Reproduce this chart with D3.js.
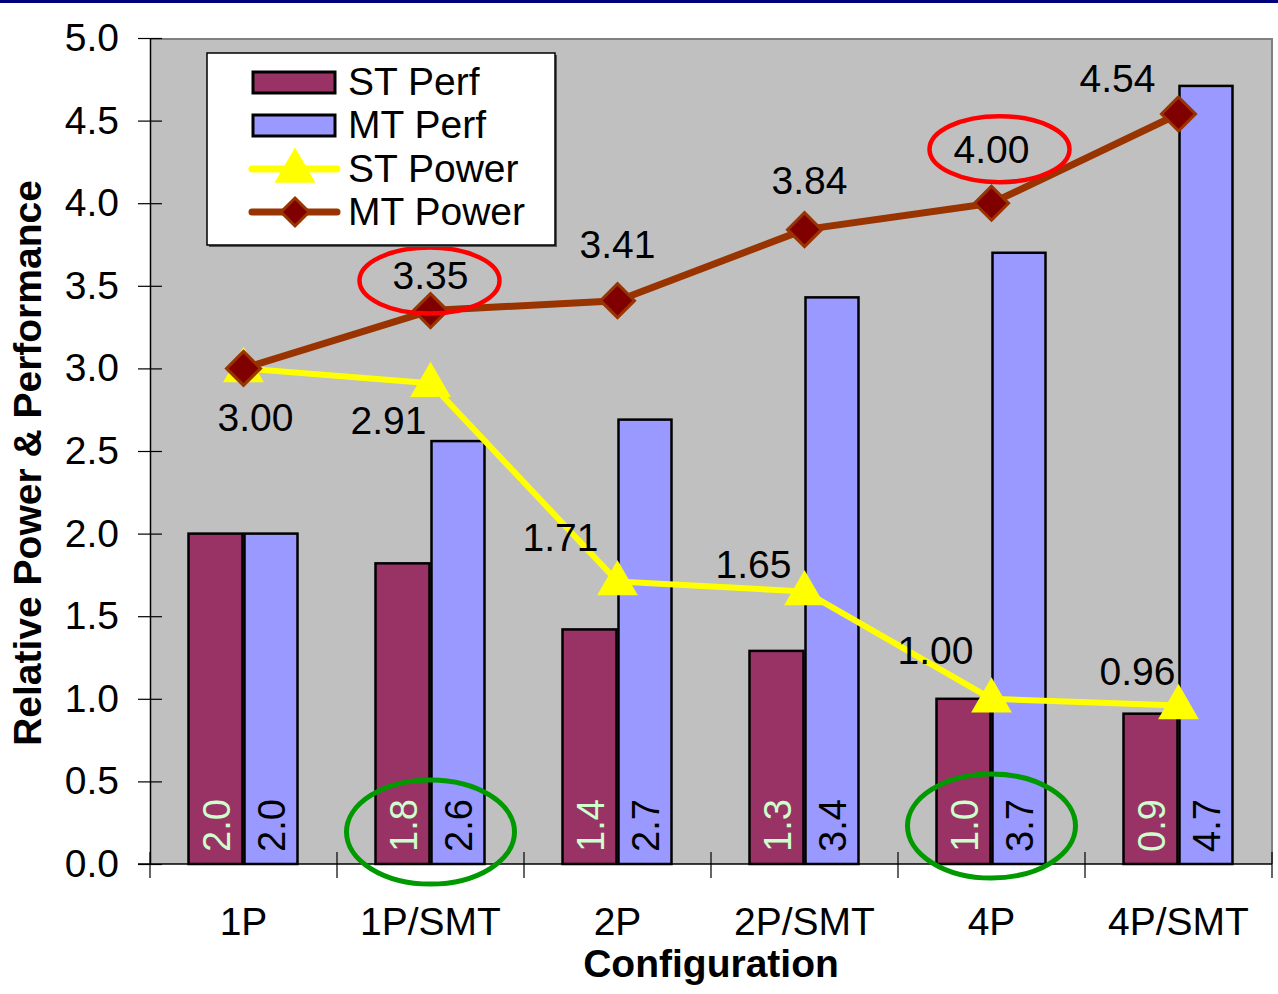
<!DOCTYPE html>
<html><head><meta charset="utf-8">
<script src="https://cdn.jsdelivr.net/npm/d3@7"></script>
<style>body{margin:0;background:#fff;}svg{display:block;font-family:"Liberation Sans",Arial,sans-serif;}</style>
</head><body>
<svg id="c" width="1278" height="994"></svg>
<script>
const categories = ["1P","1P/SMT","2P","2P/SMT","4P","4P/SMT"];
const stPerf = [2.00, 1.82, 1.42, 1.29, 1.00, 0.91];
const mtPerf = [2.00, 2.56, 2.69, 3.43, 3.70, 4.71];
const stPerfLabels = ["2.0","1.8","1.4","1.3","1.0","0.9"];
const mtPerfLabels = ["2.0","2.6","2.7","3.4","3.7","4.7"];
const stPower = [3.00, 2.91, 1.71, 1.65, 1.00, 0.96];
const mtPower = [3.00, 3.35, 3.41, 3.84, 4.00, 4.54];
const yTicks = [0,0.5,1,1.5,2,2.5,3,3.5,4,4.5,5];
const seriesNames = ["ST Perf","MT Perf","ST Power","MT Power"];

const svg = d3.select("#c");
const L=150, R=1272, T=38, B=864;
const FS = 39;
const x = d3.scaleBand().domain(categories).range([L,R]).paddingInner(0).paddingOuter(0);
const y = d3.scaleLinear().domain([0,5]).range([B,T]);
const barW = 54;

// top blue rule
svg.append("rect").attr("x",0).attr("y",0).attr("width",1278).attr("height",3).attr("fill","#00007a");

// plot area
svg.append("rect").attr("x",L).attr("y",T).attr("width",R-L).attr("height",B-T).attr("fill","#c0c0c0");
svg.append("line").attr("x1",L).attr("x2",R).attr("y1",T+1).attr("y2",T+1).attr("stroke","#808080").attr("stroke-width",2);
svg.append("line").attr("x1",R).attr("x2",R).attr("y1",T).attr("y2",B).attr("stroke","#808080").attr("stroke-width",2);

// y axis
const yAxis = d3.axisLeft(y).tickValues(yTicks).tickFormat(d3.format(".1f")).tickSize(0).tickPadding(31);
const ya = svg.append("g").attr("transform",`translate(${L},0)`).call(yAxis);
ya.select(".domain").attr("stroke","#000").attr("stroke-width",1.5);
ya.selectAll("text").attr("font-size",FS).attr("fill","#000").attr("font-family","Liberation Sans, Arial, sans-serif");
ya.selectAll(".tick").append("line").attr("x1",-12).attr("x2",12).attr("stroke","#000").attr("stroke-width",1.2);

// bars
const g = svg.append("g");
categories.forEach((c,i)=>{
  const cx = x(c)+x.bandwidth()/2;
  g.append("rect").attr("x",cx-barW-1).attr("y",y(stPerf[i])).attr("width",barW).attr("height",y(0)-y(stPerf[i]))
    .attr("fill","#993366").attr("stroke","#000").attr("stroke-width",2.5);
  g.append("rect").attr("x",cx+1).attr("y",y(mtPerf[i])).attr("width",barW-1).attr("height",y(0)-y(mtPerf[i]))
    .attr("fill","#9999ff").attr("stroke","#000").attr("stroke-width",2.5);
  g.append("text").attr("transform",`translate(${cx-barW/2+13},${B-12}) rotate(-90)`)
    .attr("font-size",38).attr("fill","#ccffcc").text(stPerfLabels[i]);
  g.append("text").attr("transform",`translate(${cx+barW/2+14},${B-12}) rotate(-90)`)
    .attr("font-size",38).attr("fill","#000").text(mtPerfLabels[i]);
});

// x axis
svg.append("line").attr("x1",L-12).attr("x2",R).attr("y1",B).attr("y2",B).attr("stroke","#000").attr("stroke-width",1.5);
const xb = [L].concat(categories.map(c=>x(c)+x.bandwidth()));
xb.forEach(v=>svg.append("line").attr("x1",v).attr("x2",v).attr("y1",B-12).attr("y2",B+14).attr("stroke","#000").attr("stroke-width",1.2));
categories.forEach(c=>{
  svg.append("text").attr("x",x(c)+x.bandwidth()/2).attr("y",935).attr("text-anchor","middle")
    .attr("font-size",FS).attr("fill","#000").text(c);
});

// lines
const cxOf = (i)=>x(categories[i])+x.bandwidth()/2;
const line = d3.line().x((d,i)=>cxOf(i)).y(d=>y(d));
svg.append("path").datum(mtPower).attr("d",line).attr("fill","none").attr("stroke","#993300").attr("stroke-width",7).attr("stroke-linejoin","round");
svg.append("path").datum(stPower).attr("d",line).attr("fill","none").attr("stroke","#ffff00").attr("stroke-width",6).attr("stroke-linejoin","round");
const tri = d3.symbol().type(d3.symbolTriangle).size(720);
stPower.forEach((v,i)=>{
  svg.append("path").attr("d",tri).attr("transform",`translate(${cxOf(i)},${y(v)+2})`).attr("fill","#ffff00");
});
mtPower.forEach((v,i)=>{
  svg.append("path").attr("d","M0,-17L17,0L0,17L-17,0Z").attr("transform",`translate(${cxOf(i)},${y(v)})`)
    .attr("fill","#800000").attr("stroke","#993300").attr("stroke-width",3);
});

// value labels
const fmt = d3.format(".2f");
const stOff = [[12,63],[-42,51],[-57,-31],[-51,-13],[-56,-35],[-41,-20]];
const mtOff = [[0,0],[0,-22],[0,-43],[5,-36],[0,-40],[-61,-22]];
stPower.forEach((v,i)=>{
  svg.append("text").attr("x",cxOf(i)+stOff[i][0]).attr("y",y(v)+stOff[i][1]).attr("text-anchor","middle")
    .attr("font-size",FS).attr("fill","#000").text(fmt(v));
});
mtPower.forEach((v,i)=>{
  if(i===0) return;
  svg.append("text").attr("x",cxOf(i)+mtOff[i][0]).attr("y",y(v)+mtOff[i][1]).attr("text-anchor","middle")
    .attr("font-size",FS).attr("fill","#000").text(fmt(v));
});

// ellipses
[1,4].forEach(i=>{
  svg.append("ellipse").attr("cx",cxOf(i)-1+(i===4?9:0)).attr("cy",y(mtPower[i])-30+(i===4?-24:0)).attr("rx",70).attr("ry",33)
    .attr("fill","none").attr("stroke","#ff0000").attr("stroke-width",4.5);
});
[1,4].forEach(i=>{
  svg.append("ellipse").attr("cx",cxOf(i)).attr("cy",B-32+(i===4?-6:0)).attr("rx",84).attr("ry",52)
    .attr("fill","none").attr("stroke","#009900").attr("stroke-width",5);
});

// legend
const lg = svg.append("g").attr("transform","translate(207,53)");
lg.append("rect").attr("x",2).attr("y",2).attr("width",348).attr("height",192).attr("fill","#555");
lg.append("rect").attr("width",348).attr("height",192).attr("fill","#fff").attr("stroke","#000").attr("stroke-width",1.5);
const rows=[29,72,116,159];
lg.append("rect").attr("x",46).attr("y",rows[0]-10).attr("width",82).attr("height",21).attr("fill","#993366").attr("stroke","#000").attr("stroke-width",3);
lg.append("rect").attr("x",46).attr("y",rows[1]-10).attr("width",82).attr("height",21).attr("fill","#9999ff").attr("stroke","#000").attr("stroke-width",3);
lg.append("line").attr("x1",45).attr("x2",130).attr("y1",rows[2]).attr("y2",rows[2]).attr("stroke","#ffff00").attr("stroke-width",7).attr("stroke-linecap","round");
lg.append("path").attr("d",tri).attr("transform",`translate(88,${rows[2]+2})`).attr("fill","#ffff00");
lg.append("line").attr("x1",45).attr("x2",130).attr("y1",rows[3]).attr("y2",rows[3]).attr("stroke","#993300").attr("stroke-width",7).attr("stroke-linecap","round");
lg.append("path").attr("d","M0,-14L14,0L0,14L-14,0Z").attr("transform",`translate(88,${rows[3]})`).attr("fill","#800000").attr("stroke","#993300").attr("stroke-width",3);
seriesNames.forEach((n,k)=>{
  lg.append("text").attr("x",141).attr("y",rows[k]+13).attr("font-size",FS).attr("fill","#000").text(n);
});

// axis titles
svg.append("text").attr("transform","translate(41,463) rotate(-90)").attr("text-anchor","middle")
  .attr("font-size",FS).attr("font-weight","bold").attr("fill","#000").text("Relative Power & Performance");
svg.append("text").attr("x",711).attr("y",977).attr("text-anchor","middle")
  .attr("font-size",FS).attr("font-weight","bold").attr("fill","#000").text("Configuration");
</script>
</body></html>
